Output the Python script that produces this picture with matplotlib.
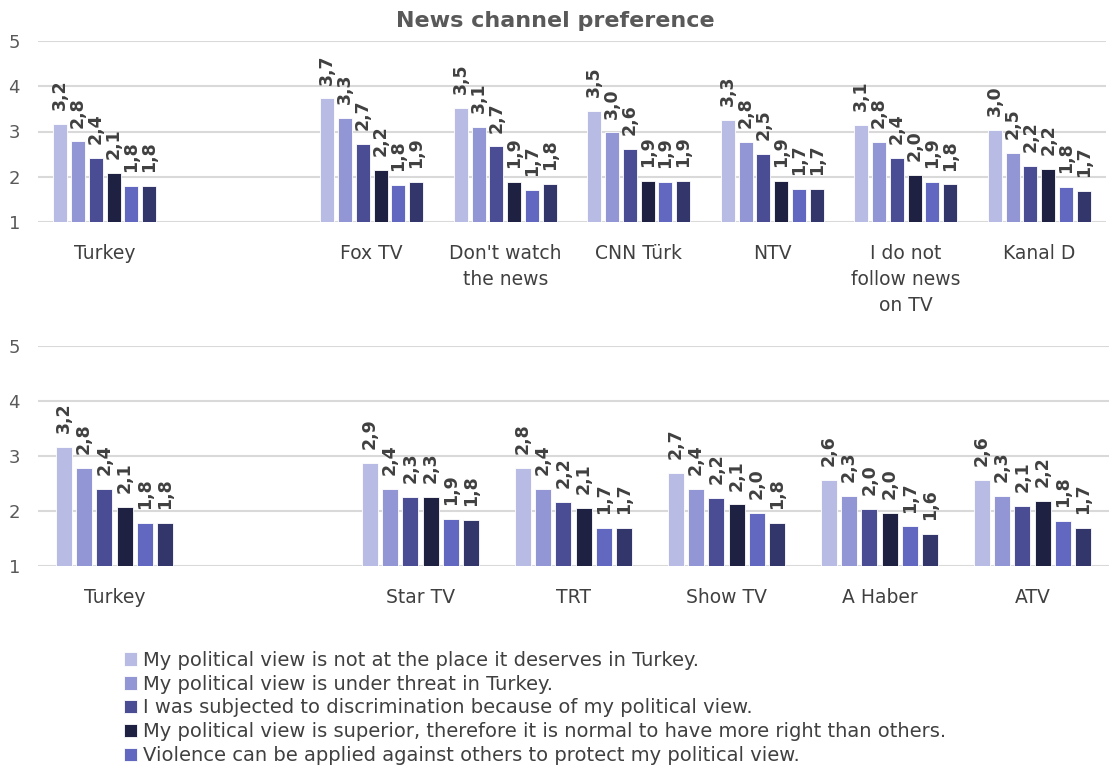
import matplotlib
matplotlib.use("Agg")
import matplotlib.pyplot as plt
import numpy as np

# данные
top_groups = ["Turkey", "", "Fox TV", "Don't watch\nthe news", "CNN Türk", "NTV",
              "I do not\nfollow news\non TV", "Kanal D"]
bottom_groups = ["Turkey", "", "Star TV", "TRT", "Show TV", "A Haber", "ATV"]

series_names = [
    "My political view is not at the place it deserves in Turkey.",
    "My political view is under threat in Turkey.",
    "I was subjected to discrimination because of my political view.",
    "My political view is superior, therefore it is normal to have more right than others.",
    "Violence can be applied against others to protect my political view.",
]

# значения по группам (6 серий), None = пустое место
top_values = [
    [3.17, 2.78, 2.41, 2.08, 1.80, 1.80],
    None,
    [3.73, 3.30, 2.72, 2.16, 1.82, 1.88],
    [3.53, 3.11, 2.67, 1.88, 1.71, 1.84],
    [3.46, 2.98, 2.61, 1.90, 1.88, 1.91],
    [3.26, 2.76, 2.50, 1.91, 1.73, 1.73],
    [3.14, 2.76, 2.41, 2.04, 1.88, 1.83],
    [3.04, 2.52, 2.24, 2.17, 1.77, 1.69],
]
bottom_values = [
    [3.17, 2.79, 2.40, 2.07, 1.78, 1.78],
    None,
    [2.88, 2.40, 2.26, 2.26, 1.86, 1.84],
    [2.78, 2.40, 2.16, 2.06, 1.70, 1.69],
    [2.69, 2.40, 2.24, 2.12, 1.96, 1.78],
    [2.56, 2.27, 2.04, 1.96, 1.72, 1.59],
    [2.56, 2.28, 2.09, 2.18, 1.82, 1.69],
]

colors = ["#B8BBE3", "#9296D4", "#4A4D94", "#1F2142", "#6268C0", "#32366A"]

plt.rcParams["font.family"] = ["DejaVu Sans"]

fig = plt.figure(figsize=(11.1, 7.75), dpi=100)
ax1 = fig.add_axes([38 / 1110, 1 - 222 / 775, 1068 / 1110, 181 / 775])
ax2 = fig.add_axes([38 / 1110, 1 - 566 / 775, 1071 / 1110, 220 / 775])

width = 0.105
step = 0.133


def draw(ax, groups, values, with_legend):
    x = np.arange(len(groups))
    for s in range(6):
        xs = []
        hs = []
        for g in range(len(groups)):
            if values[g] is None:
                continue
            xs.append(x[g] + (s - 2.5) * step)
            hs.append(values[g][s])
        lab = series_names[s] if (with_legend and s < len(series_names)) else None
        bars = ax.bar(xs, np.array(hs) - 1, width, bottom=1, color=colors[s],
                      edgecolor="white", linewidth=0.6, label=lab, zorder=3)
        for b, h in zip(bars, hs):
            ax.annotate(f"{h:.1f}".replace(".", ","),
                        (b.get_x() + b.get_width() / 2, h),
                        xytext=(0, 10), textcoords="offset points",
                        rotation=90, ha="center", va="bottom",
                        fontsize=12.5, fontweight="bold", color="#404040")
    ax.set_xlim(-0.5, len(groups) - 0.5)
    ax.set_ylim(1, 5)
    ax.set_yticks([1, 2, 3, 4, 5])
    ax.set_xticks(x)
    ax.set_xticklabels(groups, fontsize=13.5, color="#404040", linespacing=1.45)
    ax.tick_params(axis="x", length=0, pad=16)
    ax.tick_params(axis="y", length=0, pad=13, labelsize=13, labelcolor="#595959")
    ax.grid(axis="y", color="#D9D9D9", linewidth=1.5, zorder=0)
    for sp in ax.spines.values():
        sp.set_visible(False)


draw(ax1, top_groups, top_values, False)
draw(ax2, bottom_groups, bottom_values, True)

fig.text(0.5, 1 - 21 / 775, "News channel preference", ha="center", va="center",
         fontsize=16, fontweight="bold", color="#595959")

fig.legend(loc="upper left", bbox_to_anchor=(114 / 1110, 1 - 641 / 775),
           frameon=False, fontsize=14, handlelength=0.7, handleheight=0.7,
           handletextpad=0.3, labelspacing=0.25, borderpad=0, labelcolor="#404040")

fig.savefig("out.png", dpi=100)
